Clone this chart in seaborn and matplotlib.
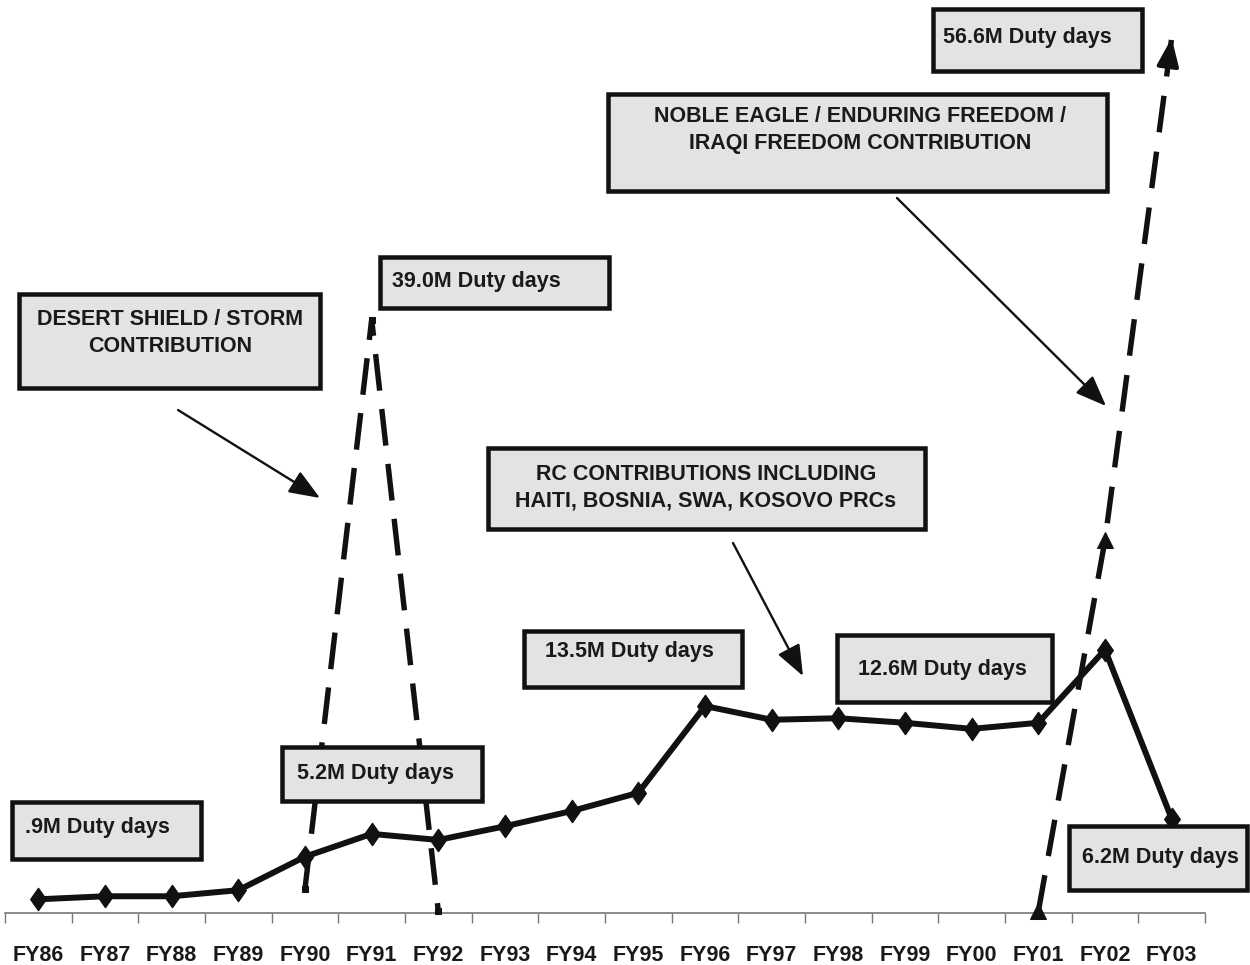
import numpy as np
import pandas as pd
import matplotlib
matplotlib.use("Agg")
import matplotlib.pyplot as plt
import seaborn as sns
from matplotlib.patches import Rectangle, FancyArrowPatch
from matplotlib.path import Path

# ---------------- data ----------------
categories = ["FY86", "FY87", "FY88", "FY89", "FY90", "FY91", "FY92", "FY93", "FY94",
              "FY95", "FY96", "FY97", "FY98", "FY99", "FY00", "FY01", "FY02", "FY03"]
duty_days = [0.9, 1.1, 1.1, 1.5, 3.7, 5.2, 4.8, 5.7, 6.7,
             7.9, 13.6, 12.7, 12.8, 12.5, 12.1, 12.5, 17.3, 6.2]

desert_years = ["FY90", "FY91", "FY92"]
desert_days = [1.6, 39.0, 0.1]

noble_years = ["FY01", "FY02", "FY03"]
noble_days = [0.1, 24.5, 57.5]

label_09 = ".9M Duty days"
label_52 = "5.2M Duty days"
label_390 = "39.0M Duty days"
label_135 = "13.5M Duty days"
label_126 = "12.6M Duty days"
label_62 = "6.2M Duty days"
label_566 = "56.6M Duty days"
label_desert = "DESERT SHIELD / STORM\nCONTRIBUTION"
label_rc = "RC CONTRIBUTIONS INCLUDING\nHAITI, BOSNIA, SWA, KOSOVO PRCs"
label_noble = "NOBLE EAGLE / ENDURING FREEDOM /\nIRAQI FREEDOM CONTRIBUTION"

# ---------------- style ----------------
sns.set_style("white")
plt.rcParams["font.family"] = ["Liberation Sans", "DejaVu Sans"]

W, H = 1250, 965
fig = plt.figure(figsize=(W / 100, H / 100), dpi=100)
fig.patch.set_facecolor("white")

AX_L, AX_R, AX_B = 5, 1205, 913
ax = fig.add_axes([AX_L / W, (H - AX_B) / H, (AX_R - AX_L) / W, AX_B / H])
ax.set_facecolor("white")

pos = {c: i for i, c in enumerate(categories)}
main_df = pd.DataFrame({"pos": [pos[c] for c in categories], "days": duty_days})
desert_df = pd.DataFrame({"pos": [pos[c] for c in desert_years], "days": desert_days})
noble_df = pd.DataFrame({"pos": [pos[c] for c in noble_years], "days": noble_days})

diamond = Path([(-0.7, 0), (0, 1), (0.7, 0), (0, -1), (-0.7, 0)],
               [Path.MOVETO, Path.LINETO, Path.LINETO, Path.LINETO, Path.CLOSEPOLY])

LINE = "#111111"
sns.lineplot(data=main_df, x="pos", y="days", ax=ax, color=LINE, lw=4.3,
             marker=diamond, markersize=16, mfc=LINE, mec=LINE, mew=1.0,
             zorder=4, clip_on=False)

sns.lineplot(data=desert_df, x="pos", y="days", ax=ax, color=LINE, lw=3.9,
             linestyle=(0, (6.8, 3.4)), marker="s", markersize=5,
             mfc=LINE, mec=LINE, zorder=3, clip_on=False)

sns.lineplot(data=noble_df, x="pos", y="days", ax=ax, color=LINE, lw=3.9,
             linestyle=(0, (6.8, 3.6)), marker="^", markersize=12,
             markevery=[0, 1], mfc=LINE, mec=LINE, zorder=3, clip_on=False)

# arrow head on the top of the Noble Eagle line
x_end, y_end = noble_df["pos"].iloc[-1], noble_df["days"].iloc[-1]
x_prev, y_prev = noble_df["pos"].iloc[-2], noble_df["days"].iloc[-2]
frac = 0.07
ax.annotate("", xy=(x_end, y_end),
            xytext=(x_end - frac * (x_end - x_prev), y_end - frac * (y_end - y_prev)),
            arrowprops=dict(arrowstyle="-|>,head_length=1.4,head_width=0.55",
                            color=LINE, lw=3, shrinkA=0, shrinkB=0,
                            mutation_scale=12),
            annotation_clip=False, zorder=3)

ax.set_xlim(-0.5, len(categories) - 0.5)
ax.set_ylim(0, 60)
ax.set_xlabel("")
ax.set_ylabel("")
ax.set_yticks([])
ax.set_xticks(range(len(categories)))
ax.set_xticklabels(categories, fontsize=15.5, fontweight="bold", color="#1a1a1a")
ax.set_xticks(np.arange(-0.5, len(categories), 1.0), minor=True)
ax.tick_params(axis="x", which="major", length=0, pad=23)
ax.tick_params(axis="x", which="minor", length=7.5, width=1.0, color="#777777",
               direction="out", bottom=True)
for side in ["left", "top", "right"]:
    ax.spines[side].set_visible(False)
ax.spines["bottom"].set_color("#777777")
ax.spines["bottom"].set_linewidth(1.2)
ax.grid(False)

# ---------------- annotation boxes (pixel layout) ----------------
FILL = "#e3e3e3"
BORDER_PX = 4.5


def fx(x):
    return x / W


def fy(y):
    return 1 - y / H


def box(x0, y0, x1, y1):
    inset = BORDER_PX / 2
    r = Rectangle((fx(x0 + inset), fy(y1 - inset)),
                  (x1 - x0 - 2 * inset) / W, (y1 - y0 - 2 * inset) / H,
                  transform=fig.transFigure, facecolor=FILL, edgecolor="#111111",
                  linewidth=BORDER_PX * 0.72, zorder=5)
    fig.add_artist(r)


def label(x, y, s, ha="left"):
    fig.text(fx(x), fy(y), s, ha=ha, va="center", multialignment="center",
             fontsize=15.5, fontweight="bold", color="#1a1a1a",
             linespacing=1.32, zorder=6)


def arrow(x0, y0, x1, y1):
    a = FancyArrowPatch((fx(x0), fy(y0)), (fx(x1), fy(y1)),
                        transform=fig.transFigure,
                        arrowstyle="-|>,head_length=1.9,head_width=0.75",
                        mutation_scale=10, color="#111111", lw=1.7,
                        shrinkA=0, shrinkB=0, zorder=6)
    fig.add_artist(a)


box(10, 800, 203, 861);    label(25, 827, label_09)
box(280, 745, 484, 803);   label(297, 774, label_52)
box(17, 292, 322, 390);    label(170, 333, label_desert, ha="center")
box(378, 255, 611, 310);   label(392, 282, label_390)
box(486, 446, 927, 531);   label(706, 488, label_rc, ha="center")
box(522, 629, 744, 689);   label(545, 651, label_135)
box(835, 633, 1054, 704);  label(858, 669, label_126)
box(1067, 824, 1249, 892); label(1082, 858, label_62)
box(606, 92, 1109, 193);   label(860, 130, label_noble, ha="center")
box(931, 7, 1144, 73);     label(943, 37, label_566)

arrow(178, 410, 320, 498)
arrow(733, 543, 803, 676)
arrow(897, 198, 1106, 406)

fig.savefig("out.png", dpi=100, facecolor="white")
